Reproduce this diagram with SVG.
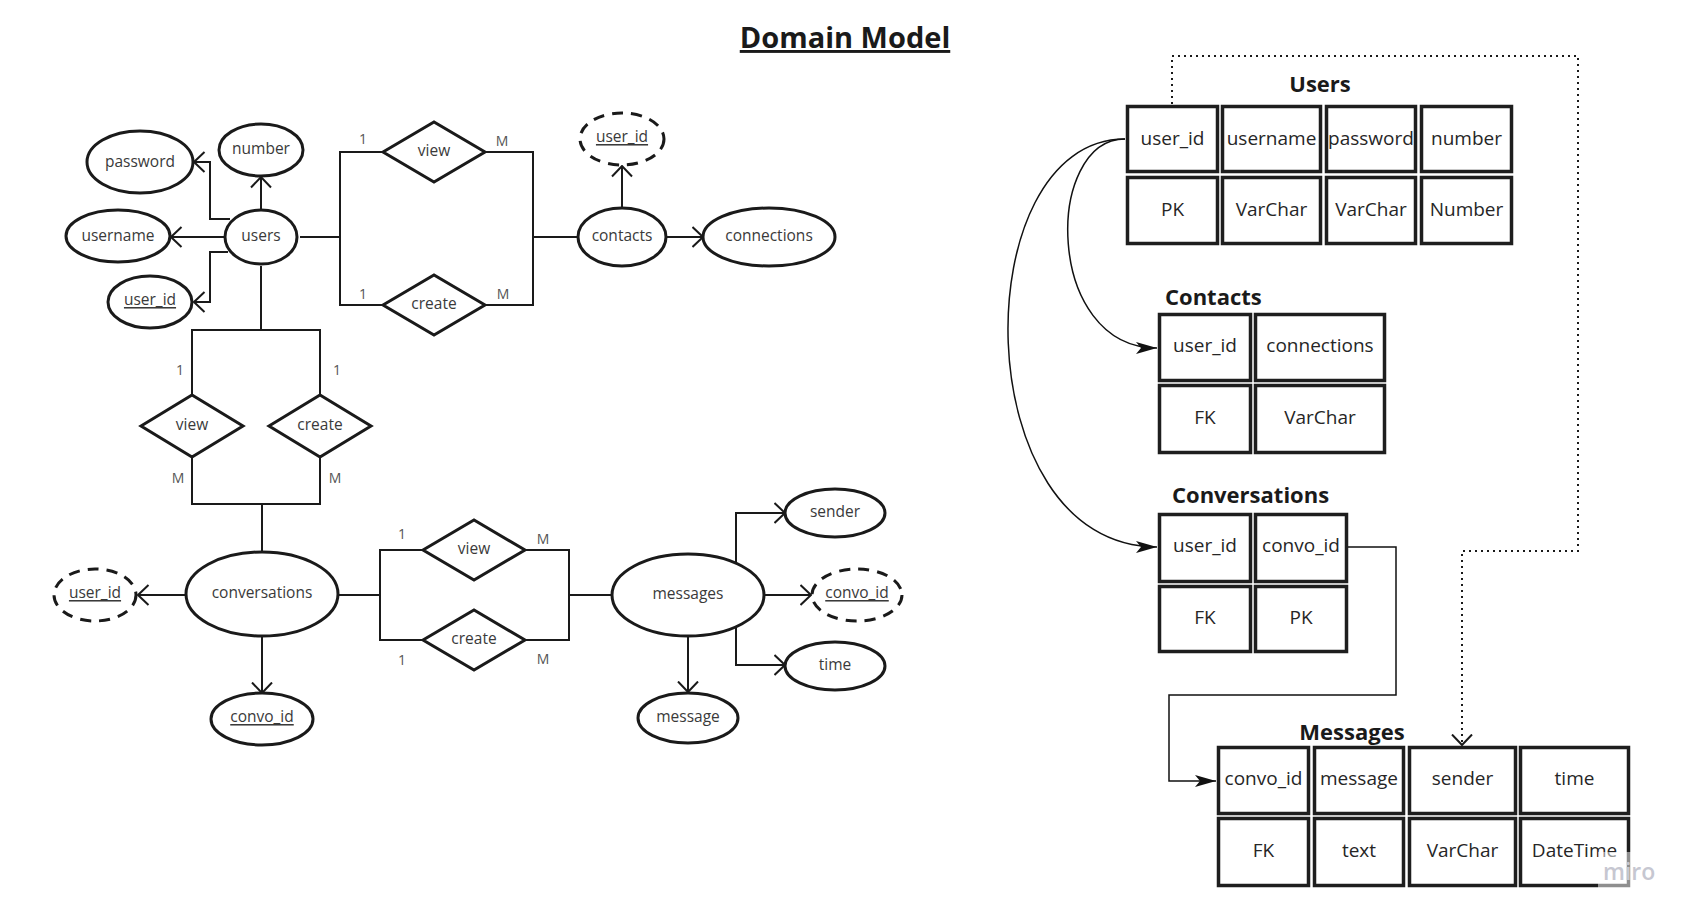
<svg xmlns="http://www.w3.org/2000/svg" width="1696" height="921" viewBox="0 0 1696 921">
<style>
.bg{fill:#ffffff}
.ell{fill:#ffffff;stroke:#1a1a1a;stroke-width:3}
.dash{fill:#ffffff;stroke:#1a1a1a;stroke-width:3;stroke-dasharray:11 8}
.dia{fill:#ffffff;stroke:#1a1a1a;stroke-width:3;stroke-linejoin:miter}
.t{font-family:"Open Sans","Liberation Sans",sans-serif;font-size:15.5px;fill:#3a3a3a;text-anchor:middle;dominant-baseline:central}
.u{text-decoration:underline}
.lbl{font-family:"Open Sans","Liberation Sans",sans-serif;font-size:14px;fill:#555555;text-anchor:middle;dominant-baseline:central}
.ln{fill:none;stroke:#1a1a1a;stroke-width:2}
.thin{fill:none;stroke:#111111;stroke-width:1.5}
.dot{fill:none;stroke:#1a1a1a;stroke-width:2;stroke-dasharray:2 4}
.cell{fill:#ffffff;stroke:#1e1e1e;stroke-width:3.5}
.ct{font-family:"Open Sans","Liberation Sans",sans-serif;font-size:19px;fill:#262626;text-anchor:middle;dominant-baseline:central}
.tt{font-family:"Open Sans","Liberation Sans",sans-serif;font-size:22px;font-weight:bold;fill:#1a1a1a}
.title{font-family:"Open Sans","Liberation Sans",sans-serif;font-size:29px;font-weight:bold;fill:#1a1a1a;text-anchor:middle;text-decoration:underline}
</style>
<defs>
<marker id="vopen" viewBox="0 0 13 22" markerWidth="13" markerHeight="22" refX="11.5" refY="11" orient="auto" markerUnits="userSpaceOnUse">
<path d="M1,1 L11.5,11 L1,21" fill="none" stroke="#1a1a1a" stroke-width="2"/>
</marker>
<marker id="tri" viewBox="0 0 22 12" markerWidth="22" markerHeight="12" refX="21" refY="6" orient="auto" markerUnits="userSpaceOnUse">
<path d="M0,0 L21,6 L0,12 L5,6 z" fill="#111111"/>
</marker>
</defs>
<rect class="bg" x="0" y="0" width="1696" height="921"/>

<text class="title" x="845" y="48">Domain Model</text>

<g id="connectors">
<path class="ln" d="M230,219 H210 V162 H194" marker-end="url(#vopen)"/>
<path class="ln" d="M261,210 V177" marker-end="url(#vopen)"/>
<path class="ln" d="M225,237 H171" marker-end="url(#vopen)"/>
<path class="ln" d="M228,252 H210 V302 H194" marker-end="url(#vopen)"/>
<path class="ln" d="M300,237 H340"/>
<path class="ln" d="M383,152 H340 V305 H383"/>
<path class="ln" d="M485,152 H533 V305 H485"/>
<path class="ln" d="M533,237 H578"/>
<path class="ln" d="M622,208 V166" marker-end="url(#vopen)"/>
<path class="ln" d="M667,237 H703" marker-end="url(#vopen)"/>
<path class="ln" d="M261,266 V330"/>
<path class="ln" d="M192,395 V330 H320 V395"/>
<path class="ln" d="M192,457 V504 H320 V457"/>
<path class="ln" d="M262,504 V552"/>
<path class="ln" d="M185,595 H138" marker-end="url(#vopen)"/>
<path class="ln" d="M262,637 V693" marker-end="url(#vopen)"/>
<path class="ln" d="M338,595 H380"/>
<path class="ln" d="M423,550 H380 V640 H423"/>
<path class="ln" d="M525,550 H569 V640 H525"/>
<path class="ln" d="M569,595 H611"/>
<path class="ln" d="M736,563 V513 H785" marker-end="url(#vopen)"/>
<path class="ln" d="M736,627 V665 H785" marker-end="url(#vopen)"/>
<path class="ln" d="M765,595 H811" marker-end="url(#vopen)"/>
<path class="ln" d="M688,637 V692" marker-end="url(#vopen)"/>
<path class="thin" d="M1125,139 C1044,139 1044,348 1157,348" marker-end="url(#tri)"/>
<path class="thin" d="M1125,139 C964,139 964,547 1157,547" marker-end="url(#tri)"/>
<path class="thin" d="M1348,547 H1396 V695 H1169 V781 H1216" marker-end="url(#tri)"/>
<path class="dot" d="M1172,104 V56 H1578 V551 H1462 V745" marker-end="url(#vopen)"/>
</g>

<g id="labels">
<text class="lbl" x="363" y="138">1</text>
<text class="lbl" x="502" y="140">M</text>
<text class="lbl" x="363" y="293">1</text>
<text class="lbl" x="503" y="293">M</text>
<text class="lbl" x="180" y="369">1</text>
<text class="lbl" x="337" y="369">1</text>
<text class="lbl" x="178" y="477">M</text>
<text class="lbl" x="335" y="477">M</text>
<text class="lbl" x="402" y="533">1</text>
<text class="lbl" x="543" y="538">M</text>
<text class="lbl" x="402" y="659">1</text>
<text class="lbl" x="543" y="658">M</text>
</g>

<g id="er-password"><ellipse class="ell" cx="140" cy="162" rx="53" ry="31"/><text class="t" x="140" y="161">password</text></g>
<g id="er-number"><ellipse class="ell" cx="261" cy="150" rx="42" ry="26"/><text class="t" x="261" y="148">number</text></g>
<g id="er-username"><ellipse class="ell" cx="118" cy="236" rx="52" ry="26"/><text class="t" x="118" y="235">username</text></g>
<g id="er-users"><ellipse class="ell" cx="261" cy="237" rx="36" ry="27"/><text class="t" x="261" y="235">users</text></g>
<g id="er-users-userid"><ellipse class="ell" cx="150" cy="302" rx="42" ry="26"/><text class="t u" x="150" y="299">user_id</text></g>
<g id="er-view-contacts"><polygon class="dia" points="383,152 434,122 485,152 434,182"/><text class="t" x="434" y="150">view</text></g>
<g id="er-create-contacts"><polygon class="dia" points="383,305 434,275 485,305 434,335"/><text class="t" x="434" y="303">create</text></g>
<g id="er-contacts"><ellipse class="ell" cx="622" cy="237" rx="44" ry="29"/><text class="t" x="622" y="235">contacts</text></g>
<g id="er-contacts-userid"><ellipse class="dash" cx="622" cy="139" rx="42" ry="26"/><text class="t u" x="622" y="136">user_id</text></g>
<g id="er-connections"><ellipse class="ell" cx="769" cy="237" rx="66" ry="29"/><text class="t" x="769" y="235">connections</text></g>
<g id="er-view-conv"><polygon class="dia" points="141,426 192,395 243,426 192,457"/><text class="t" x="192" y="424">view</text></g>
<g id="er-create-conv"><polygon class="dia" points="269,426 320,395 371,426 320,457"/><text class="t" x="320" y="424">create</text></g>
<g id="er-conversations"><ellipse class="ell" cx="262" cy="594" rx="76" ry="42"/><text class="t" x="262" y="592">conversations</text></g>
<g id="er-conv-userid"><ellipse class="dash" cx="95" cy="595" rx="41" ry="26"/><text class="t u" x="95" y="592">user_id</text></g>
<g id="er-conv-convoid"><ellipse class="ell" cx="262" cy="719" rx="51" ry="26"/><text class="t u" x="262" y="716">convo_id</text></g>
<g id="er-view-msg"><polygon class="dia" points="423,550 474,520 525,550 474,580"/><text class="t" x="474" y="548">view</text></g>
<g id="er-create-msg"><polygon class="dia" points="423,640 474,610 525,640 474,670"/><text class="t" x="474" y="638">create</text></g>
<g id="er-messages"><ellipse class="ell" cx="688" cy="595" rx="76" ry="41"/><text class="t" x="688" y="593">messages</text></g>
<g id="er-sender"><ellipse class="ell" cx="835" cy="513" rx="50" ry="24"/><text class="t" x="835" y="511">sender</text></g>
<g id="er-msg-convoid"><ellipse class="dash" cx="857" cy="595" rx="45" ry="26"/><text class="t u" x="857" y="592">convo_id</text></g>
<g id="er-time"><ellipse class="ell" cx="835" cy="666" rx="50" ry="24"/><text class="t" x="835" y="664">time</text></g>
<g id="er-message"><ellipse class="ell" cx="688" cy="718" rx="50" ry="25"/><text class="t" x="688" y="716">message</text></g>

<g id="tbl-users">
<text class="tt" x="1320" y="92" text-anchor="middle">Users</text>
<rect class="cell" x="1127.5" y="106.5" width="90" height="65"/>
<rect class="cell" x="1222.5" y="106.5" width="98" height="65"/>
<rect class="cell" x="1326.5" y="106.5" width="89" height="65"/>
<rect class="cell" x="1421.5" y="106.5" width="90" height="65"/>
<rect class="cell" x="1127.5" y="177.5" width="90" height="66"/>
<rect class="cell" x="1222.5" y="177.5" width="98" height="66"/>
<rect class="cell" x="1326.5" y="177.5" width="89" height="66"/>
<rect class="cell" x="1421.5" y="177.5" width="90" height="66"/>
<text class="ct" x="1172.5" y="138">user_id</text>
<text class="ct" x="1271.5" y="138">username</text>
<text class="ct" x="1371" y="138">password</text>
<text class="ct" x="1466.5" y="138">number</text>
<text class="ct" x="1172.5" y="209">PK</text>
<text class="ct" x="1271.5" y="209">VarChar</text>
<text class="ct" x="1371" y="209">VarChar</text>
<text class="ct" x="1466.5" y="209">Number</text>
</g>

<g id="tbl-contacts">
<text class="tt" x="1165" y="305">Contacts</text>
<rect class="cell" x="1159.5" y="314.5" width="91" height="66"/>
<rect class="cell" x="1255.5" y="314.5" width="129" height="66"/>
<rect class="cell" x="1159.5" y="385.5" width="91" height="67"/>
<rect class="cell" x="1255.5" y="385.5" width="129" height="67"/>
<text class="ct" x="1205" y="345">user_id</text>
<text class="ct" x="1320" y="345">connections</text>
<text class="ct" x="1205" y="417">FK</text>
<text class="ct" x="1320" y="417">VarChar</text>
</g>

<g id="tbl-conversations">
<text class="tt" x="1172" y="503">Conversations</text>
<rect class="cell" x="1159.5" y="514.5" width="91" height="67"/>
<rect class="cell" x="1255.5" y="514.5" width="91" height="67"/>
<rect class="cell" x="1159.5" y="586.5" width="91" height="65"/>
<rect class="cell" x="1255.5" y="586.5" width="91" height="65"/>
<text class="ct" x="1205" y="545">user_id</text>
<text class="ct" x="1301" y="545">convo_id</text>
<text class="ct" x="1205" y="617">FK</text>
<text class="ct" x="1301" y="617">PK</text>
</g>

<g id="tbl-messages">
<text class="tt" x="1352" y="740" text-anchor="middle">Messages</text>
<rect class="cell" x="1218.5" y="747.5" width="90" height="66"/>
<rect class="cell" x="1314.5" y="747.5" width="89" height="66"/>
<rect class="cell" x="1409.5" y="747.5" width="106" height="66"/>
<rect class="cell" x="1520.5" y="747.5" width="108" height="66"/>
<rect class="cell" x="1218.5" y="818.5" width="90" height="67"/>
<rect class="cell" x="1314.5" y="818.5" width="89" height="67"/>
<rect class="cell" x="1409.5" y="818.5" width="106" height="67"/>
<rect class="cell" x="1520.5" y="818.5" width="108" height="67"/>
<text class="ct" x="1263.5" y="778">convo_id</text>
<text class="ct" x="1359" y="778">message</text>
<text class="ct" x="1462.5" y="778">sender</text>
<text class="ct" x="1574.5" y="778">time</text>
<text class="ct" x="1263.5" y="850">FK</text>
<text class="ct" x="1359" y="850">text</text>
<text class="ct" x="1462.5" y="850">VarChar</text>
<text class="ct" x="1574.5" y="850">DateTime</text>
</g>

<g id="watermark">
<rect x="1598" y="852" width="64" height="42" fill="#ffffff" opacity="0.5"/>
<text x="1603" y="880" font-family="'Open Sans','Liberation Sans',sans-serif" font-size="23" font-weight="600" fill="#c6c7d1">miro</text>
</g>
</svg>
